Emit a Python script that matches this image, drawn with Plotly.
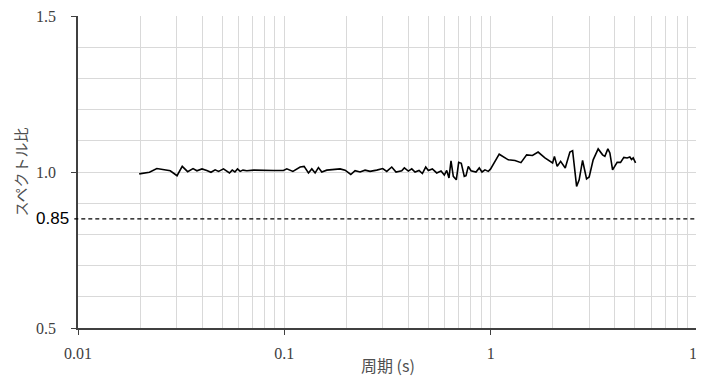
import plotly.graph_objects as go

period = [0.0198, 0.0222, 0.0241, 0.0260, 0.0280, 0.0302, 0.0320, 0.0340, 0.0361, 0.0377,
          0.0399, 0.0421, 0.0441, 0.0462, 0.0480, 0.0507, 0.0523, 0.0542, 0.0559, 0.0576,
          0.0593, 0.0611, 0.0630, 0.0658, 0.0709, 0.0764, 0.0823, 0.0886, 0.0990, 0.1028,
          0.1100, 0.1193, 0.1247, 0.1309, 0.1359, 0.1410, 0.1463, 0.1519, 0.1606, 0.1729,
          0.1863, 0.1970, 0.2099, 0.2202, 0.2328, 0.2462, 0.2603, 0.2805, 0.2999, 0.3136,
          0.3316, 0.3478, 0.3707, 0.3816, 0.3990, 0.4145, 0.4300, 0.4496, 0.4666, 0.4845,
          0.4987, 0.5215, 0.5477, 0.5745, 0.5961, 0.6124, 0.6281, 0.6423, 0.6591, 0.6815,
          0.6998, 0.7205, 0.7450, 0.7594, 0.7791, 0.8029, 0.8489, 0.8807, 0.9076, 0.9385,
          0.9736, 0.9978, 1.100, 1.217, 1.312, 1.402, 1.494, 1.594, 1.698, 1.832,
          1.996, 2.037, 2.101, 2.183, 2.298, 2.421, 2.495, 2.609, 2.685, 2.789,
          2.916, 3.002, 3.139, 3.319, 3.487, 3.577, 3.698, 3.782, 3.898, 4.102,
          4.261, 4.420, 4.586, 4.726, 4.817, 4.905, 5.038]

ratio = [0.994, 0.999, 1.011, 1.007, 1.004, 0.988, 1.018, 1.001, 1.011, 1.004,
         1.010, 1.005, 0.999, 1.007, 1.002, 1.010, 1.004, 0.997, 1.006, 1.000,
         1.010, 1.002, 1.006, 1.004, 1.006, 1.005, 1.006, 1.005, 1.005, 1.010,
         1.002, 1.016, 1.018, 0.997, 1.010, 0.997, 1.014, 1.000, 1.006, 1.008,
         1.010, 1.006, 0.992, 1.004, 1.000, 1.006, 1.002, 1.006, 1.011, 1.002,
         1.016, 1.000, 1.004, 1.013, 1.003, 1.010, 1.000, 1.005, 0.995, 1.016,
         1.005, 1.010, 0.997, 1.003, 0.990, 1.005, 0.981, 1.036, 0.986, 0.975,
         1.031, 1.028, 0.986, 0.988, 1.018, 1.004, 1.000, 1.013, 1.000, 1.007,
         1.002, 1.009, 1.057, 1.039, 1.037, 1.030, 1.055, 1.053, 1.064, 1.045,
         1.029, 1.050, 1.018, 1.034, 1.013, 1.064, 1.068, 0.954, 0.975, 1.037,
         0.978, 0.984, 1.039, 1.074, 1.055, 1.050, 1.074, 1.061, 1.007, 1.031,
         1.031, 1.047, 1.045, 1.048, 1.040, 1.045, 1.029]

threshold = 0.85
x_ticks = [0.01, 0.1, 1, 10]
x_ticktext = ["0.01", "0.1", "1", "10"]
y_ticks = [0.5, 1.0, 1.5]
y_ticktext = ["0.5", "1.0", "1.5"]

x_minor = [m * d for d in [0.01, 0.1, 1] for m in range(2, 10)]

grid = "#d9d9d9"
axis_col = "#404040"
serif = "Liberation Serif, DejaVu Serif, serif"
cjk = "Noto Sans CJK JP, sans-serif"

fig = go.Figure()
fig.add_trace(go.Scatter(x=period, y=ratio, mode="lines",
                         line=dict(color="black", width=1.6), showlegend=False))

fig.add_shape(type="line", xref="paper", yref="y", x0=-0.006, x1=1, y0=threshold, y1=threshold,
              line=dict(color="black", width=1.2, dash="4px,3px"))

fig.add_annotation(text=f"{threshold:.2f}", xref="paper", yref="y", x=-0.011, y=threshold,
                   xanchor="right", yanchor="middle", showarrow=False,
                   font=dict(family="Liberation Sans, Arial, sans-serif", size=17, color="black"))

fig.add_annotation(text="スペクトル比", xref="paper", yref="paper", x=-0.093, y=0.5,
                   textangle=-90, xanchor="center", yanchor="middle", showarrow=False,
                   font=dict(family=cjk, size=15, color="#505050"))
fig.add_annotation(text="周期 (s)", xref="paper", yref="paper", x=0.5, y=-0.12,
                   xanchor="center", yanchor="middle", showarrow=False,
                   font=dict(family=cjk, size=16, color="#505050"))

fig.update_layout(
    width=696, height=374,
    margin=dict(l=70, r=7, t=8, b=54),
    paper_bgcolor="white", plot_bgcolor="white",
    xaxis=dict(type="log", range=[-2, 1], tickvals=x_ticks, ticktext=x_ticktext,
               showgrid=True, gridcolor=grid, gridwidth=1,
               minor=dict(tickvals=x_minor, showgrid=True, gridcolor=grid, gridwidth=1, ticks=""),
               showline=True, linecolor=axis_col, linewidth=1.5,
               ticks="outside", ticklen=5, tickcolor=axis_col, tickwidth=1.2,
               ticklabelstandoff=5, automargin=False, zeroline=False,
               ticklabeloverflow="allow",
               tickfont=dict(family=serif, size=16, color="#404040")),
    yaxis=dict(range=[0.5, 1.5], tickvals=y_ticks, ticktext=y_ticktext,
               showgrid=True, gridcolor=grid, gridwidth=1,
               minor=dict(dtick=0.1, showgrid=True, gridcolor=grid, gridwidth=1, ticks=""),
               showline=True, linecolor=axis_col, linewidth=1.5,
               ticks="outside", ticklen=5, tickcolor=axis_col, tickwidth=1.2,
               ticklabelstandoff=12, automargin=False, zeroline=False,
               ticklabeloverflow="allow",
               tickfont=dict(family=serif, size=16, color="#404040")),
)

fig.write_html("out.html")
